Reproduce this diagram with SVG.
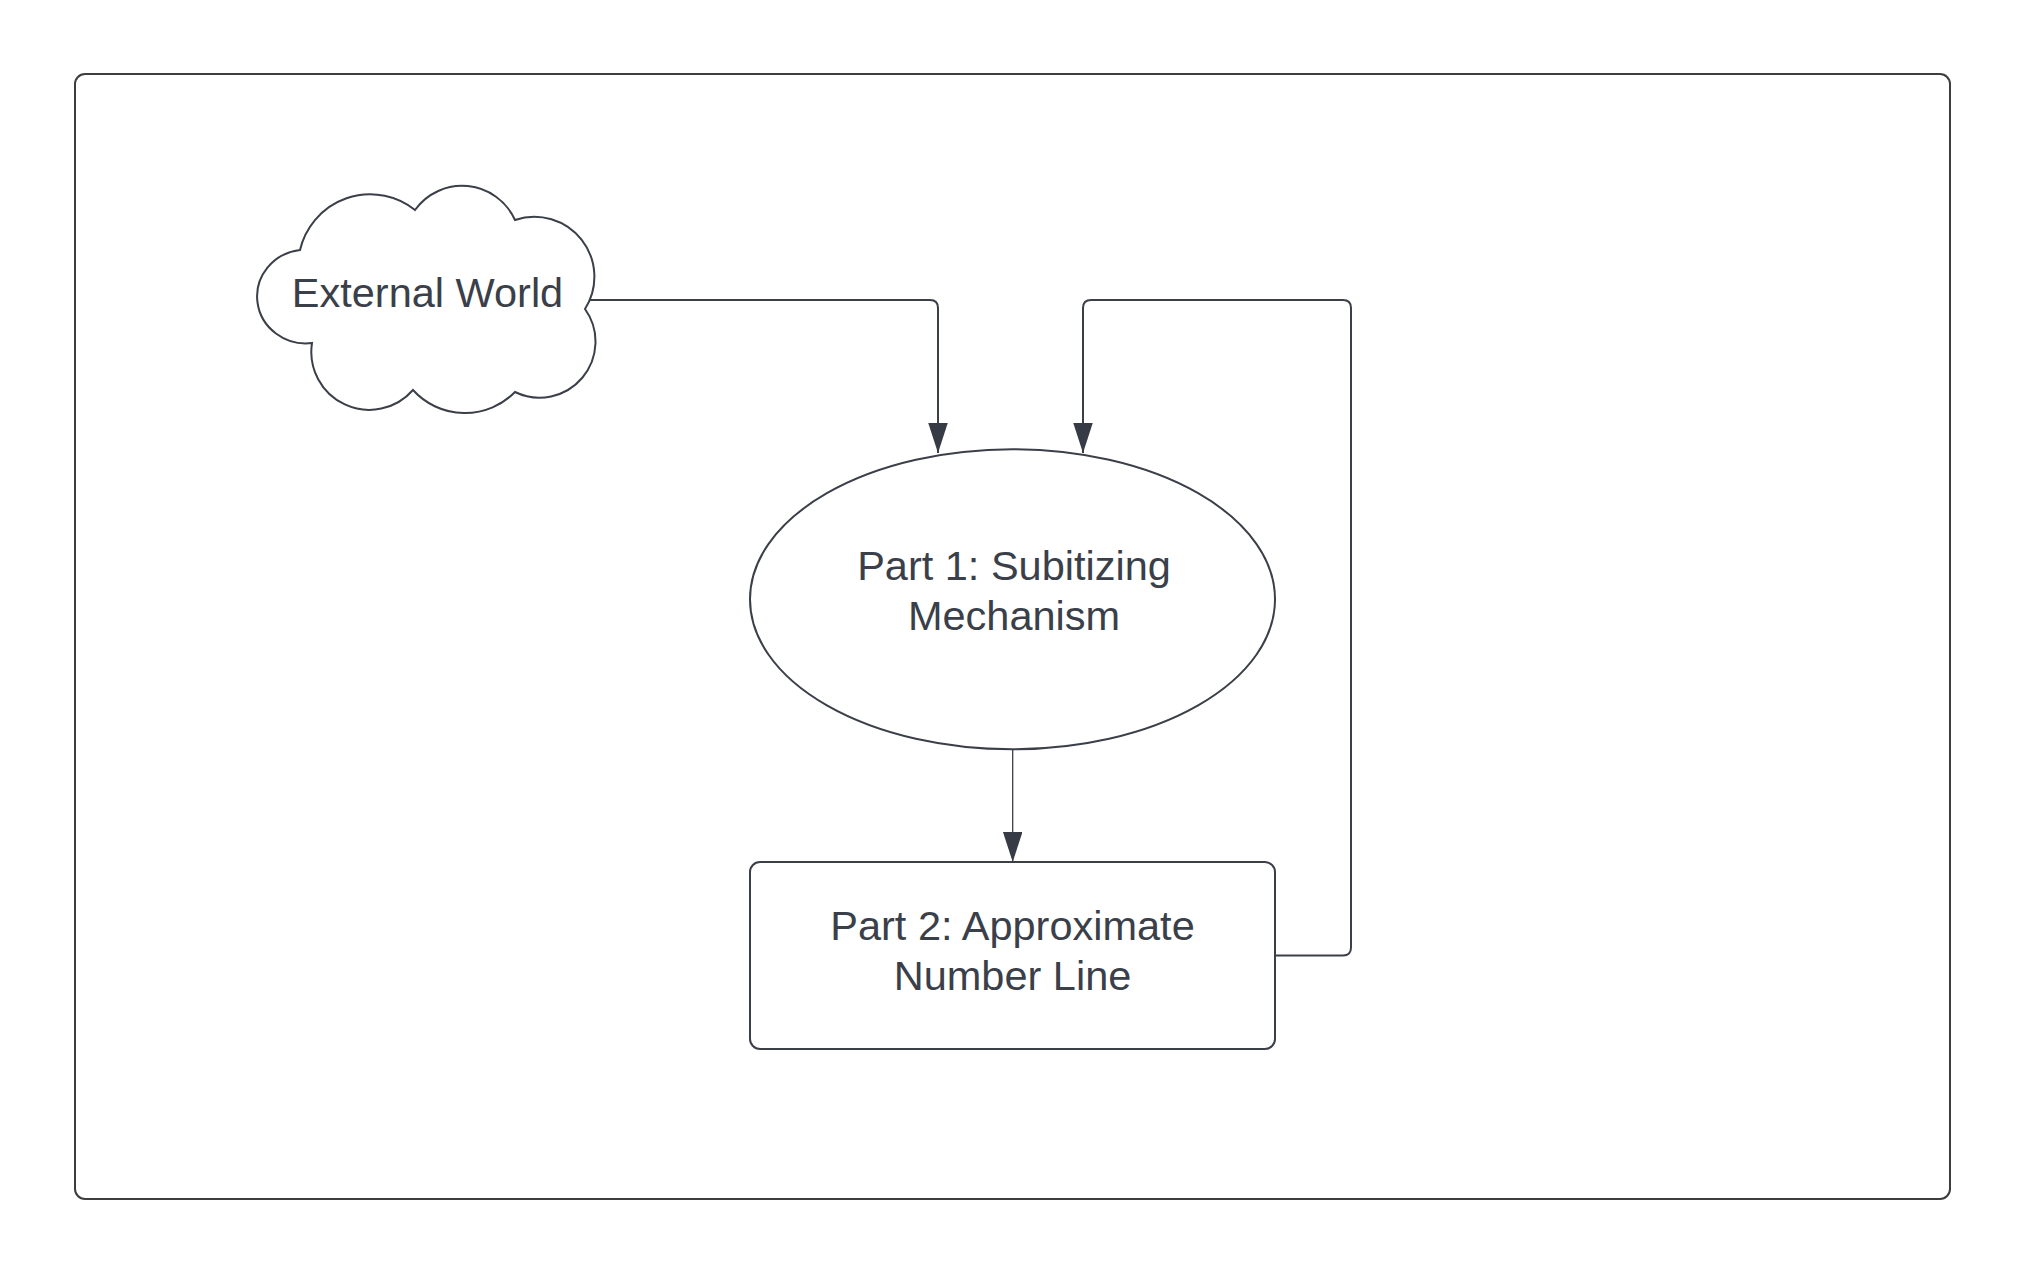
<svg xmlns="http://www.w3.org/2000/svg" width="2025" height="1275" viewBox="0 0 2025 1275">
<style>
.shape{fill:#ffffff;stroke:#3a3f48;stroke-width:2}
.frame{fill:#ffffff;stroke:#3d3d40;stroke-width:2}
.conn{fill:none;stroke:#3a3f48;stroke-width:2}
.thin{stroke-width:1.3}
.lbl{font-family:"Liberation Sans",Arial,sans-serif;font-size:41.5px;fill:#3a3f49;text-anchor:middle}
</style>
<defs>
<marker id="arrow" markerUnits="userSpaceOnUse" markerWidth="30" markerHeight="20" refX="30" refY="9.75" orient="auto">
<path d="M0,0 L30,9.75 L0,19.5 Z" fill="#363b45"/>
</marker>
</defs>
<rect width="2025" height="1275" fill="#ffffff"/>
<rect id="frame" class="frame" x="75" y="74" width="1875" height="1125" rx="10"/>
<g id="connectors">
<path class="conn" d="M583,300 H930 Q938,300 938,308 V453" marker-end="url(#arrow)"/>
<path class="conn thin" d="M1012.7,749.5 V862" marker-end="url(#arrow)"/>
<path class="conn" d="M1275,955.5 H1343 Q1351,955.5 1351,947.5 V308 Q1351,300 1343,300 H1091 Q1083,300 1083,308 V453" marker-end="url(#arrow)"/>
</g>
<g id="external-world">
<path class="shape" d="M312,343 A48 46 0 0 1 300,250 A72 72 0 0 1 415,210 A58 58 0 0 1 515,220 A60 60 0 0 1 585,309 A56 56 0 0 1 515,392 A70 70 0 0 1 413,390 A58 58 0 0 1 312,343 Z"/>
<text class="lbl" x="427.5" y="307">External World</text>
</g>
<g id="part1">
<ellipse class="shape" cx="1012.5" cy="599.3" rx="262.5" ry="150"/>
<text class="lbl" x="1014" y="580">Part 1: Subitizing</text>
<text class="lbl" x="1014" y="630">Mechanism</text>
</g>
<g id="part2">
<rect class="shape" x="750" y="862" width="525" height="187" rx="10"/>
<text class="lbl" x="1012.5" y="940">Part 2: Approximate</text>
<text class="lbl" x="1012.5" y="990">Number Line</text>
</g>
</svg>
